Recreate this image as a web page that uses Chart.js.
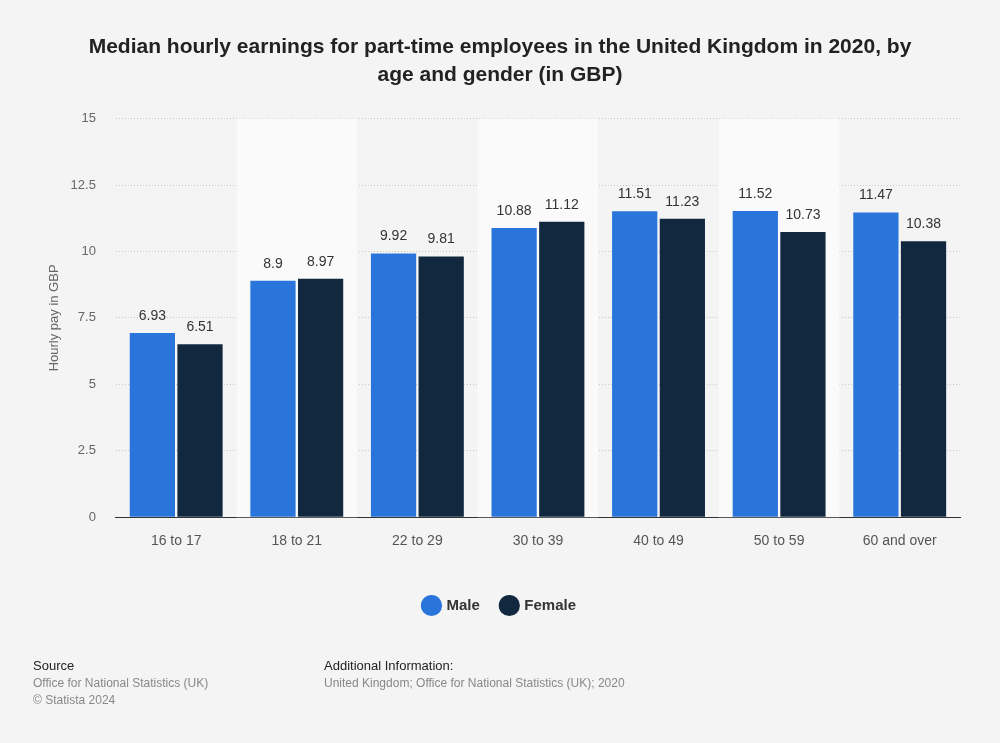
<!DOCTYPE html>
<html>
<head>
<meta charset="utf-8">
<script src="https://cdn.jsdelivr.net/npm/chart.js@4"></script>
<style>
  body { margin: 0; background: #f4f4f4; font-family: "Liberation Sans", Arial, sans-serif; }
  #wrap { position: relative; width: 1000px; height: 743px; }
  .foot { position: absolute; font-size: 12px; color: #888; line-height: 17px; }
  .foot b { font-weight: normal; color: #222; font-size: 13px; }
</style>
</head>
<body>
<div id="wrap">
  <canvas id="chart" width="1000" height="743"></canvas>
  <div class="foot" style="left:33px; top:657px;"><b>Source</b><br>Office for National Statistics (UK)<br>© Statista 2024</div>
  <div class="foot" style="left:324px; top:657px;"><b>Additional Information:</b><br>United Kingdom; Office for National Statistics (UK); 2020</div>
</div>
<script>
var ageGroups = ["16 to 17", "18 to 21", "22 to 29", "30 to 39", "40 to 49", "50 to 59", "60 and over"];
var male = [6.93, 8.9, 9.92, 10.88, 11.51, 11.52, 11.47];
var female = [6.51, 8.97, 9.81, 11.12, 11.23, 10.73, 10.38];
var yTicks = [0, 2.5, 5, 7.5, 10, 12.5, 15];

// light stripes behind every second category
var bands = {
  id: 'bands',
  beforeDatasetsDraw: function(chart) {
    var ctx = chart.ctx, x = chart.scales.x, a = chart.chartArea;
    var w = (a.right - a.left) / ageGroups.length;
    ctx.save();
    ctx.fillStyle = '#fafafa';
    for (var i = 1; i < ageGroups.length; i += 2) {
      var cx = x.getPixelForValue(i);
      ctx.fillRect(cx - w / 2, a.top, w, a.bottom - a.top);
    }
    ctx.restore();
  }
};

// value labels above bars
var valueLabels = {
  id: 'valueLabels',
  afterDatasetsDraw: function(chart) {
    var ctx = chart.ctx;
    ctx.save();
    ctx.font = '14px "Liberation Sans", Arial, sans-serif';
    ctx.fillStyle = '#333';
    ctx.textAlign = 'center';
    ctx.textBaseline = 'bottom';
    chart.data.datasets.forEach(function(ds, di) {
      chart.getDatasetMeta(di).data.forEach(function(bar, i) {
        ctx.fillText(String(ds.data[i]), bar.x, bar.y - 10);
      });
    });
    ctx.restore();
  }
};

var ctx = document.getElementById('chart').getContext('2d');
window.theChart = new Chart(ctx, {
  type: 'bar',
  data: {
    labels: ageGroups,
    datasets: [{
      label: 'Male',
      backgroundColor: '#2a75dc',
      data: male,
      categoryPercentage: 0.79,
      barPercentage: 0.95
    }, {
      label: 'Female',
      backgroundColor: '#11283f',
      data: female,
      categoryPercentage: 0.79,
      barPercentage: 0.95
    }]
  },
  options: {
    responsive: false,
    animation: false,
    layout: { padding: { left: 40, right: 40, top: 10, bottom: 120 } },
    plugins: {
      title: {
        display: true,
        text: ['Median hourly earnings for part-time employees in the United Kingdom in 2020, by', 'age and gender (in GBP)'],
        color: '#222',
        font: { family: '"Liberation Sans", Arial, sans-serif', size: 21, weight: 'bold', lineHeight: 1.3 },
        padding: { top: 24, bottom: 30 }
      },
      legend: {
        position: 'bottom',
        labels: {
          usePointStyle: true,
          pointStyle: 'circle',
          boxWidth: 16,
          boxHeight: 16,
          padding: 22,
          color: '#333',
          font: { family: '"Liberation Sans", Arial, sans-serif', size: 15, weight: 'bold' }
        }
      },
      tooltip: { enabled: false }
    },
    scales: {
      x: {
        grid: { display: false },
        border: { color: '#333', width: 1 },
        afterFit: function(axis) { axis.height += 18; },
        ticks: { color: '#555', padding: 8, font: { family: '"Liberation Sans", Arial, sans-serif', size: 14 } }
      },
      y: {
        min: 0,
        max: 15,
        afterBuildTicks: function(axis) {
          axis.ticks = yTicks.map(function(v) { return { value: v }; });
        },
        afterFit: function(axis) { axis.width -= 12; },
        grid: { color: '#c8c8c8', drawTicks: false },
        border: { display: false, dash: [1, 2] },
        ticks: { color: '#666', padding: 20, font: { family: '"Liberation Sans", Arial, sans-serif', size: 13 } },
        title: { display: true, text: 'Hourly pay in GBP', color: '#666', padding: { top: 7, bottom: 0 }, font: { family: '"Liberation Sans", Arial, sans-serif', size: 13 } }
      }
    }
  },
  plugins: [bands, valueLabels]
});
</script>
</body>
</html>
